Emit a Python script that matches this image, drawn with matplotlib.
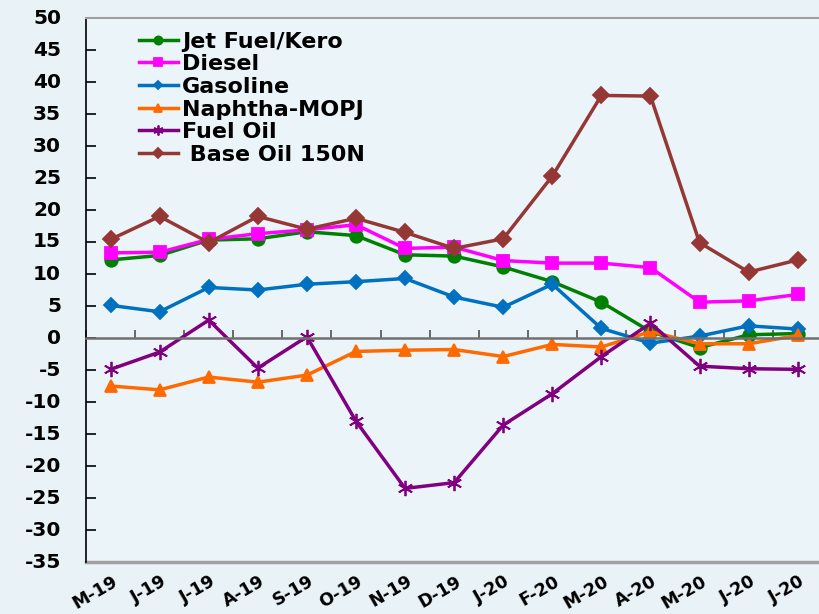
import matplotlib
matplotlib.use("Agg")
import matplotlib.pyplot as plt
import numpy as np

months = ["M-19", "J-19", "J-19", "A-19", "S-19", "O-19", "N-19", "D-19",
          "J-20", "F-20", "M-20", "A-20", "M-20", "J-20", "J-20"]
jet = [12.2, 12.9, 15.3, 15.5, 16.6, 16.0, 13.0, 12.8, 11.1, 8.8, 5.6, 1.0, -1.5, 0.5, 0.7]
diesel = [13.3, 13.4, 15.4, 16.3, 16.9, 17.7, 14.0, 14.2, 12.1, 11.7, 11.7, 11.0, 5.6, 5.8, 6.8]
gasoline = [5.1, 4.1, 7.9, 7.5, 8.4, 8.8, 9.3, 6.4, 4.8, 8.4, 1.5, -0.8, 0.3, 1.9, 1.4]
naphtha = [-7.5, -8.1, -6.1, -6.9, -5.8, -2.1, -1.9, -1.8, -2.9, -1.0, -1.4, 1.0, -0.9, -0.9, 0.4]
fuel_oil = [-4.9, -2.2, 2.8, -4.7, 0.2, -13.0, -23.5, -22.6, -13.6, -8.7, -2.9, 2.3, -4.4, -4.8, -4.9]
base_oil = [15.4, 19.0, 14.9, 19.0, 17.0, 18.7, 16.5, 14.0, 15.5, 25.3, 37.9, 37.8, 14.9, 10.3, 12.2]
yticks = list(range(-35, 51, 5))

series = [
    ("Jet Fuel/Kero", jet, "#008000", "o", 9),
    ("Diesel", diesel, "#FF00FF", "s", 9),
    ("Gasoline", gasoline, "#0070C0", "D", 7),
    ("Naphtha-MOPJ", naphtha, "#FF6A00", "^", 9),
    ("Fuel Oil", fuel_oil, "#800080", (6, 2, 0), 11),
    (" Base Oil 150N", base_oil, "#953735", "D", 8),
]

plt.rcParams['font.family'] = ['DejaVu Sans']
plt.rcParams['axes.unicode_minus'] = False
W, H = 819, 614
fig = plt.figure(figsize=(W / 100, H / 100), dpi=100)
fig.patch.set_facecolor("#E8F2F7")
ax_left, ax_top, ax_bottom = 86, 18, 562
ax = fig.add_axes([ax_left / W, (H - ax_bottom) / H, 1.0 - ax_left / W + 0.004,
                   (ax_bottom - ax_top) / H])
ax.set_facecolor("#EBF4F8")

x = np.arange(len(months))
for name, vals, col, mk, ms in series:
    ax.plot(x, vals, color=col, lw=2.5, marker=mk, ms=ms, mew=1.3, label=name)

ax.set_xlim(-0.5, len(months) - 0.5)
ax.set_ylim(-35, 50)
ax.set_yticks(yticks)
ax.tick_params(axis='y', direction='in', length=7, width=1.2, labelleft=False)
fig.canvas.draw()
for v in yticks:
    py = ax.transData.transform((0, v))[1]
    fig.text(61 / W, py / H, str(v), ha='right', va='center',
             fontsize=14.5, fontweight='bold')

# category axis crossing at zero
ax.spines['bottom'].set_position(('data', 0))
ax.spines['bottom'].set_color('#707070')
ax.spines['bottom'].set_linewidth(1.8)
ax.spines['left'].set_color('black')
ax.spines['left'].set_linewidth(1.2)
ax.spines['right'].set_visible(False)
ax.spines['top'].set_color('#A0A0A0')
ax.spines['top'].set_linewidth(1.5)
ax.axhline(-35, color='#A0A0A0', lw=2.5, clip_on=False)

ax.set_xticks(np.arange(-0.5, len(months), 1.0))
ax.tick_params(axis='x', direction='in', length=6, width=1.2, color='#505050', labelbottom=False)
for i, m in enumerate(months):
    ax.text(i + 0.02, -36.6, m, rotation=30, ha='right', va='top', fontsize=12.5,
            fontweight='bold', rotation_mode='anchor', clip_on=False)

leg = ax.legend(loc='upper left', bbox_to_anchor=(0.072, 0.975), frameon=False,
                prop={'weight': 'bold', 'size': 16}, handlelength=1.75,
                labelspacing=0.12, handletextpad=0.2, borderaxespad=0.0,
                borderpad=0.0, markerscale=0.65)

fig.savefig("out.png", dpi=100, facecolor=fig.get_facecolor())
